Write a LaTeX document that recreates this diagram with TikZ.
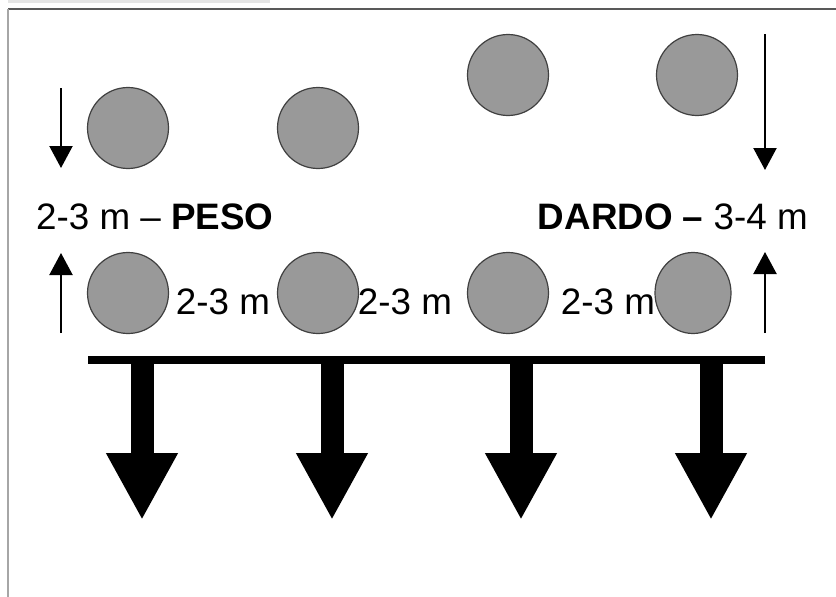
\documentclass[tikz,border=0pt]{standalone}
\usepackage{fontspec}
\setmainfont{Liberation Sans}
\usetikzlibrary{arrows.meta,shapes.geometric}
\begin{document}
\begin{tikzpicture}[x=1pt,y=-1pt,
  disc/.style={circle,draw=black!75,line width=1.2pt,fill=black!40,minimum size=81pt,inner sep=0pt},
  lbl/.style={inner sep=0pt,font=\fontsize{36.8}{40}\selectfont},
  thin arrow/.style={line width=2.2pt,-{Triangle[width=23pt,length=22pt]}},
  big arrow/.style={line width=23pt,-{Triangle[width=67pt,length=67pt]}},
  bar/.style={line width=8pt}]
\useasboundingbox (0,0) rectangle (836,597);
% frame
\fill[black!10] (8,0) rectangle (270,3);
\draw[black!65,line width=2pt] (8,9) -- (836,9);
\draw[black!35,line width=2pt] (8,9) -- (8,597);
% circles
\node[disc] (c1) at (128,128) {};
\node[disc] (c2) at (318,128) {};
\node[disc] (c3) at (508,75) {};
\node[disc] (c4) at (697,75) {};
\node[disc] (c5) at (128,293) {};
\node[disc] (c6) at (318,293) {};
\node[disc] (c7) at (508,293) {};
\node[disc,ellipse,minimum width=76pt,minimum height=81pt] (c8) at (693,293) {};
% labels
\node[lbl,anchor=west] (peso) at (36,217) {2-3 m -- \textbf{PESO}};
\node[lbl,anchor=east] (dardo) at (808,217) {\textbf{DARDO --} 3-4 m};
\node[lbl] (d1) at (223,302) {2-3 m};
\node[lbl] (d2) at (405,302) {2-3 m};
\node[lbl] (d3) at (608,302) {2-3 m};
% thin arrows
\coordinate (la1) at (61,88);  \coordinate (la2) at (61,168);
\coordinate (lb1) at (61,333); \coordinate (lb2) at (61,253);
\coordinate (ra1) at (765,34); \coordinate (ra2) at (765,170);
\coordinate (rb1) at (765,333);\coordinate (rb2) at (765,252);
\draw[thin arrow] (la1) -- (la2);
\draw[thin arrow] (lb1) -- (lb2);
\draw[thin arrow] (ra1) -- (ra2);
\draw[thin arrow] (rb1) -- (rb2);
% bar
\coordinate (bl) at (88,360); \coordinate (br) at (765,360);
\draw[bar] (bl) -- (br);
% big arrows
\foreach \x/\n in {142/1,332/2,521/3,711/4}{
  \coordinate (s\n) at (\x,358);
  \coordinate (t\n) at (\x,520);
  \draw[big arrow] (s\n) -- (t\n);
}
\end{tikzpicture}
\end{document}
